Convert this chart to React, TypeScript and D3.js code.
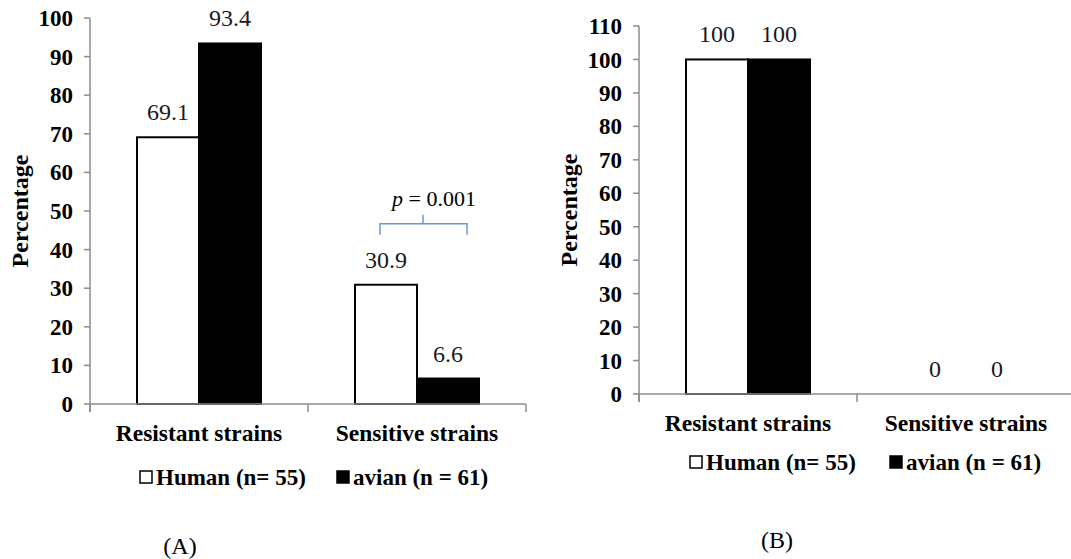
import React from "react";
import * as d3 from "d3";

const categories = ["Resistant strains", "Sensitive strains"];
const seriesNames = ["Human (n= 55)", "avian (n = 61)"];
const humanA = [69.1, 30.9];
const avianA = [93.4, 6.6];
const humanB = [100, 0];
const avianB = [100, 0];
const ticksA = [0, 10, 20, 30, 40, 50, 60, 70, 80, 90, 100];
const ticksB = [0, 10, 20, 30, 40, 50, 60, 70, 80, 90, 100, 110];
const pText = "0.001";

const FONT = "'Liberation Serif', 'Times New Roman', serif";
const AXIS = "#8c8c8c";

type PanelProps = {
  x0: number;
  yTop: number;
  y0: number;
  maxV: number;
  ticks: number[];
  human: number[];
  avian: number[];
  catY: number;
  legY: number;
  legX: number[];
  label: string;
  labelX: number;
  labelY: number;
  showP?: boolean;
};

function Panel(p: PanelProps) {
  const width = 436;
  const y = d3.scaleLinear().domain([0, p.maxV]).range([p.y0, p.yTop]);
  const x = d3.scaleBand<string>().domain(categories).range([p.x0, p.x0 + width]).padding(0);
  const inner = d3.scaleBand<string>().domain(seriesNames).range([0, x.bandwidth()]).paddingInner(0).paddingOuter(0.758);
  const bw = inner.bandwidth();
  const fills = ["#ffffff", "#000000"];
  const data = [p.human, p.avian];
  const sx = (x(categories[1]) as number) + (inner(seriesNames[0]) as number);
  return (
    <g>
      {/* y axis */}
      <line x1={p.x0} x2={p.x0} y1={p.yTop} y2={p.y0 + 8} stroke={AXIS} strokeWidth={1.5} />
      {p.ticks.map((t) => (
        <g key={t}>
          <line x1={p.x0 - 6} x2={p.x0} y1={y(t)} y2={y(t)} stroke={AXIS} strokeWidth={1.5} />
          <text x={p.x0 - 17} y={y(t)} dy="0.35em" textAnchor="end" fontFamily={FONT} fontWeight="bold" fontSize={23} fill="#000">
            {t}
          </text>
        </g>
      ))}
      {/* bars */}
      {categories.map((c, ci) =>
        seriesNames.map((s, si) => {
          const v = data[si][ci];
          const bx = (x(c) as number) + (inner(s) as number);
          return (
            <g key={c + s}>
              {v > 0 && (
                <rect x={bx} y={y(v)} width={bw} height={p.y0 - y(v)} fill={fills[si]} stroke="#000" strokeWidth={2} />
              )}
              <text x={bx + bw / 2} y={y(v) - 17} textAnchor="middle" fontFamily={FONT} fontSize={24} fill="#1a1a1a">
                {v}
              </text>
            </g>
          );
        })
      )}
      {/* x axis */}
      <line x1={p.x0} x2={p.x0 + width} y1={p.y0} y2={p.y0} stroke={AXIS} strokeWidth={1.5} />
      {[0, 1, 2].map((i) => (
        <line key={i} x1={p.x0 + i * x.bandwidth()} x2={p.x0 + i * x.bandwidth()} y1={p.y0} y2={p.y0 + 8} stroke={AXIS} strokeWidth={1.5} />
      ))}
      {categories.map((c) => (
        <text key={c} x={(x(c) as number) + x.bandwidth() / 2} y={p.catY} dy="0.35em" textAnchor="middle" fontFamily={FONT} fontWeight="bold" fontSize={23.5} fill="#000">
          {c}
        </text>
      ))}
      {/* y title */}
      <text transform={`translate(${p.x0 - 62},${(p.yTop + p.y0) / 2}) rotate(-90)`} textAnchor="middle" fontFamily={FONT} fontWeight="bold" fontSize={24} fill="#000">
        Percentage
      </text>
      {/* legend */}
      {seriesNames.map((s, si) => (
        <g key={s}>
          <rect x={p.legX[si]} y={p.legY - 6} width={12} height={12} fill={fills[si]} stroke="#000" strokeWidth={1.5} />
          <text x={p.legX[si] + 16} y={p.legY} dy="0.35em" fontFamily={FONT} fontWeight="bold" fontSize={23} fill="#000">
            {s}
          </text>
        </g>
      ))}
      <text x={p.labelX} y={p.labelY} dy="0.35em" textAnchor="middle" fontFamily={FONT} fontSize={24} fill="#000">
        {p.label}
      </text>
      {p.showP && (
        <g>
          <path
            d={`M${sx + 25},${y(30.9) - 50} v-11 h43 v-9 M${sx + 68},${y(30.9) - 61} h44 v11`}
            fill="none"
            stroke="#6a97cf"
            strokeWidth={1.5}
          />
          <text x={sx + 37} y={y(30.9) - 79} fontFamily={FONT} fontSize={22} fill="#000">
            <tspan fontStyle="italic">p</tspan>
            <tspan> = {pText}</tspan>
          </text>
        </g>
      )}
    </g>
  );
}

export default function App() {
  return (
    <svg width={1071} height={559} style={{ position: "absolute", left: 0, top: 0, background: "#fff" }}>
      <rect width={1071} height={559} fill="#fff" />
      <Panel x0={90} yTop={18} y0={404} maxV={100} ticks={ticksA} human={humanA} avian={avianA} catY={433} legY={477} legX={[140, 337]} label="(A)" labelX={180} labelY={546} showP />
      <Panel x0={639} yTop={26} y0={394} maxV={110} ticks={ticksB} human={humanB} avian={avianB} catY={423} legY={462} legX={[690, 890]} label="(B)" labelX={777} labelY={540} />
    </svg>
  );
}
